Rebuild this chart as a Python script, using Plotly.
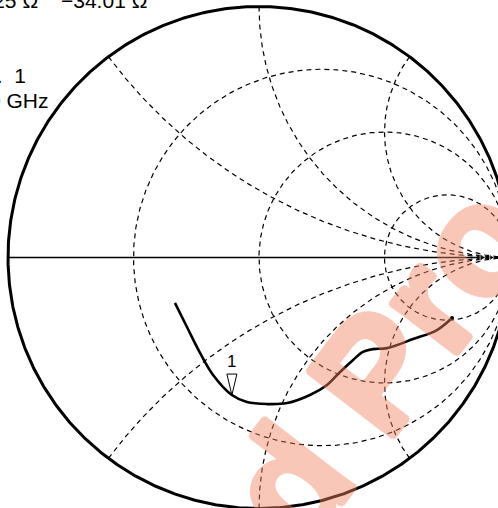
import numpy as np
import plotly.graph_objects as go

# Smith chart grid values (normalized impedance)
r_grid = [1/3, 1, 3]
x_grid = [0.5, 1, 2, -0.5, -1, -2]

s11_re = [-0.335, -0.287, -0.235, -0.183, -0.108, -0.048, 0.032, 0.112, 0.203,
          0.271, 0.323, 0.375, 0.414, 0.454, 0.510, 0.614, 0.709, 0.769]
s11_im = [-0.181, -0.277, -0.380, -0.468, -0.548, -0.576, -0.584, -0.580, -0.548,
          -0.508, -0.456, -0.408, -0.376, -0.365, -0.361, -0.325, -0.289, -0.241]

# Marker
marker_idx = 4
marker_name = "1"
marker_r_text = "22.25 Ω"
marker_x_text = "−34.01 Ω"
marker_id_text = "Mkr.\u00a0\u00a01"
marker_freq_text = "1.000000 GHz"

# Reference points on the real axis
axis_marks_re = [0.888, 0.925]
axis_marks_im = [0.0, 0.0]

watermark_text = "d Pro"

W, H = 498, 508
CX, CY, R = 259.0, 257.5, 251.0

fig = go.Figure()

dash = "5px,4px"
# resistance circles
for r in r_grid:
    t = np.linspace(0, 2*np.pi, 600)
    c, rad = r/(1+r), 1/(1+r)
    fig.add_trace(go.Scatter(x=c + rad*np.cos(t), y=rad*np.sin(t), mode="lines",
                             line=dict(color="black", width=1.2, dash=dash),
                             hoverinfo="skip", showlegend=False))
# reactance arcs
for xv in x_grid:
    phi = np.linspace(0, np.pi/2 - 1e-4, 600)
    rr = np.tan(phi)
    z = rr + 1j*xv
    g = (z - 1)/(z + 1)
    fig.add_trace(go.Scatter(x=g.real, y=g.imag, mode="lines",
                             line=dict(color="black", width=1.2, dash=dash),
                             hoverinfo="skip", showlegend=False))

# real axis
fig.add_trace(go.Scatter(x=[-1, 1], y=[0, 0], mode="lines",
                         line=dict(color="black", width=1.3),
                         hoverinfo="skip", showlegend=False))
# outer circle
t = np.linspace(0, 2*np.pi, 800)
fig.add_trace(go.Scatter(x=np.cos(t), y=np.sin(t), mode="lines",
                         line=dict(color="black", width=3),
                         hoverinfo="skip", showlegend=False))

# axis marks
fig.add_trace(go.Scatter(x=axis_marks_re, y=axis_marks_im, mode="markers",
                         marker=dict(symbol="triangle-right", size=[7, 6], color="black"),
                         hoverinfo="skip", showlegend=False))

# measured trace
fig.add_trace(go.Scatter(x=s11_re, y=s11_im, mode="lines",
                         line=dict(color="black", width=2.6, shape="spline", smoothing=1.0),
                         showlegend=False))
fig.add_trace(go.Scatter(x=[s11_re[-1]], y=[s11_im[-1]], mode="markers",
                         marker=dict(size=4, color="black"), showlegend=False))

mx, my = s11_re[marker_idx], s11_im[marker_idx]
fig.add_shape(type="path", xref="x", yref="y", xsizemode="pixel", ysizemode="pixel",
              xanchor=mx, yanchor=my, path="M -5 21 L 5 21 L 0 0 Z",
              line=dict(color="black", width=1), fillcolor="rgba(0,0,0,0)")
fig.add_annotation(x=mx, y=my, xref="x", yref="y", text=marker_name, showarrow=False,
                   xanchor="center", yanchor="middle",
                   yshift=34, font=dict(family="Liberation Sans", size=17, color="black"))

font_lbl = dict(family="Liberation Sans", size=21, color="black")
fig.add_annotation(x=40/W, y=1 - 0/H, xref="paper", yref="paper", xanchor="right", yanchor="middle",
                   text=marker_r_text, showarrow=False, font=font_lbl)
fig.add_annotation(x=59/W, y=1 - 0/H, xref="paper", yref="paper", xanchor="left", yanchor="middle",
                   text=marker_x_text, showarrow=False, font=font_lbl)
fig.add_annotation(x=28/W, y=1 - 76/H, xref="paper", yref="paper", xanchor="right", yanchor="middle",
                   text=marker_id_text, showarrow=False, font=font_lbl)
fig.add_annotation(x=50/W, y=1 - 101/H, xref="paper", yref="paper", xanchor="right", yanchor="middle",
                   text=marker_freq_text, showarrow=False, font=font_lbl)

# watermark (semi-transparent, strokes thickened with a text shadow)
wm = "#f28463"
offs = [(3, 0), (-3, 0), (0, 3), (0, -3), (2.1, 2.1), (-2.1, 2.1), (2.1, -2.1), (-2.1, -2.1)]
shadow = ", ".join(f"{a}px {b}px 0 {wm}" for a, b in offs)
fig.add_annotation(x=381/W, y=1 - 364/H, xref="paper", yref="paper", text="<b>" + watermark_text + "</b>",
                   textangle=-52.5, showarrow=False, xanchor="center", yanchor="middle", opacity=0.45,
                   font=dict(family="Liberation Sans", size=156, color=wm, shadow=shadow))

fig.update_xaxes(range=[-CX/R, (W - CX)/R], visible=False, fixedrange=True)
fig.update_yaxes(range=[(CY - H)/R, CY/R], visible=False, fixedrange=True)
fig.update_layout(width=W, height=H, margin=dict(l=0, r=0, t=0, b=0),
                  paper_bgcolor="white", plot_bgcolor="white")

fig.write_html("out.html", config={"displayModeBar": False},
               post_script="document.body.style.margin='0';document.body.style.overflow='hidden';")
